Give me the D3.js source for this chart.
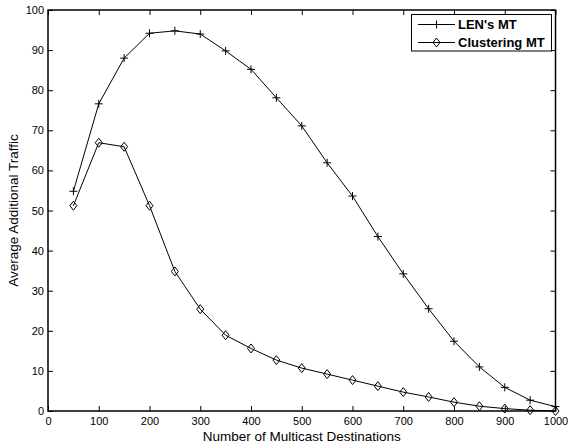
<!DOCTYPE html>
<html>
<head>
<meta charset="utf-8">
<script src="https://cdn.jsdelivr.net/npm/d3@7"></script>
<style>
body { margin:0; background:#fff; }
text { font-family: "Liberation Sans", Arial, sans-serif; fill:#000; }
</style>
</head>
<body>
<div id="chart"></div>
<script>
var w = 568, h = 444;
var margin = {left:48, right:12, top:10, bottom:33};

var xs = [50,100,150,200,250,300,350,400,450,500,550,600,650,700,750,800,850,900,950,1000];
var lenMT = [54.8,76.6,88.0,94.2,94.8,94.0,89.8,85.2,78.1,71.1,61.9,53.6,43.5,34.2,25.5,17.4,11.0,5.9,2.7,1.1];
var clusterMT = [51.2,66.9,65.9,51.2,34.8,25.4,18.9,15.6,12.7,10.7,9.2,7.7,6.2,4.7,3.5,2.2,1.2,0.6,0.2,0.0];
var xTicks = d3.range(0, 1001, 100);
var yTicks = d3.range(0, 101, 10);
var seriesNames = ["LEN's MT", "Clustering MT"];

var svg = d3.select("#chart").append("svg")
  .attr("width", w).attr("height", h);

var x = d3.scaleLinear().domain([0,1000]).range([margin.left, w-margin.right-0.5]);
var y = d3.scaleLinear().domain([0,100]).range([h-margin.bottom, margin.top]);

// ticks inside on all four sides
svg.append("g")
  .attr("transform","translate(0,"+y(0)+")")
  .call(d3.axisBottom(x).tickValues(xTicks).tickFormat(d3.format("d")).tickSizeInner(-5).tickSizeOuter(0).tickPadding(6))
  .call(function(g){ g.select(".domain").remove(); g.selectAll("text").style("font-size","11px"); });
svg.append("g")
  .attr("transform","translate(0,"+y(100)+")")
  .call(d3.axisTop(x).tickValues(xTicks).tickSizeInner(-5).tickSizeOuter(0).tickFormat(""))
  .call(function(g){ g.select(".domain").remove(); });
svg.append("g")
  .attr("transform","translate("+x(0)+",0)")
  .call(d3.axisLeft(y).tickValues(yTicks).tickSizeInner(-5).tickSizeOuter(0).tickPadding(4))
  .call(function(g){ g.select(".domain").remove(); g.selectAll("text").style("font-size","11px"); });
svg.append("g")
  .attr("transform","translate("+x(1000)+",0)")
  .call(d3.axisRight(y).tickValues(yTicks).tickSizeInner(-5).tickSizeOuter(0).tickFormat(""))
  .call(function(g){ g.select(".domain").remove(); });

svg.append("rect")
  .attr("x", x(0)).attr("y", y(100))
  .attr("width", x(1000)-x(0)).attr("height", y(0)-y(100))
  .style("fill","none").style("stroke","#000").style("stroke-width",1.5);

var line = d3.line().x(function(d){return x(d[0]);}).y(function(d){return y(d[1]);});

function plus(g, cx, cy) {
  g.append("path").attr("d","M"+(cx-4)+","+cy+"h8M"+cx+","+(cy-4)+"v8")
    .style("stroke","#000").style("stroke-width",1).style("fill","none");
}
function diamond(g, cx, cy) {
  g.append("path").attr("d","M"+cx+","+(cy-4.5)+"L"+(cx+3.5)+","+cy+"L"+cx+","+(cy+4.5)+"L"+(cx-3.5)+","+cy+"Z")
    .style("stroke","#000").style("stroke-width",1).style("fill","none");
}

var d1 = xs.map(function(v,i){return [v,lenMT[i]];});
var d2 = xs.map(function(v,i){return [v,clusterMT[i]];});

svg.append("path").datum(d1).attr("d", line).style("fill","none").style("stroke","#000").style("stroke-width",1);
svg.append("path").datum(d2).attr("d", line).style("fill","none").style("stroke","#000").style("stroke-width",1);
var m = svg.append("g");
d1.forEach(function(d){ plus(m, x(d[0]), y(d[1])); });
d2.forEach(function(d){ diamond(m, x(d[0]), y(d[1])); });

// axis labels
svg.append("text")
  .attr("x", (x(0)+x(1000))/2).attr("y", 441)
  .attr("text-anchor","middle").style("font-size","13.5px")
  .text("Number of Multicast Destinations");
svg.append("text")
  .attr("transform","translate(18,"+((y(0)+y(100))/2)+") rotate(-90)")
  .attr("text-anchor","middle").style("font-size","13.5px")
  .text("Average Additional Traffic");

// legend
var lg = svg.append("g");
lg.append("rect").attr("x",411.5).attr("y",14.5).attr("width",140).attr("height",36.5)
  .style("fill","#fff").style("stroke","#000").style("stroke-width",1);
var legY = [24.5, 42.5];
legY.forEach(function(ly, i) {
  lg.append("line").attr("x1",418).attr("x2",455).attr("y1",ly).attr("y2",ly)
    .style("stroke","#000").style("stroke-width",1);
  if (i == 0) plus(lg, 436.5, ly); else diamond(lg, 436.5, ly);
  lg.append("text").attr("x",458).attr("y",ly+4.5)
    .style("font-size","13px").style("font-weight","bold")
    .text(seriesNames[i]);
});
</script>
</body>
</html>
